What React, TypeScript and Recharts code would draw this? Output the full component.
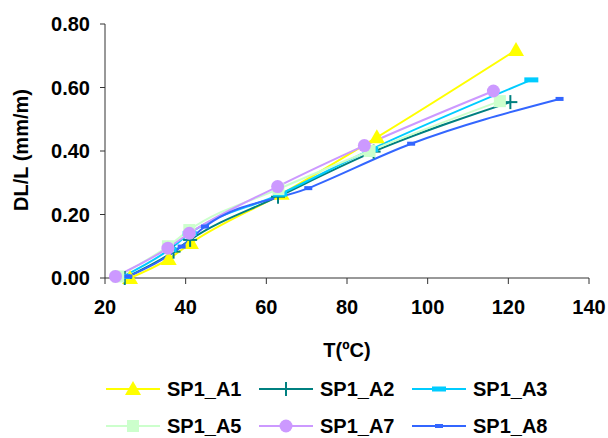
import React from 'react'
import { LineChart, Line, XAxis, YAxis } from 'recharts'

// temperatures (ºC) and DL/L (mm/m) per specimen
const tA1 = [26.2, 35.8, 41.3, 63.8, 87.4, 121.9]
const vA1 = [0.0, 0.06, 0.11, 0.265, 0.443, 0.718]
const tA2 = [24.9, 37.0, 41.1, 62.9, 86.6, 120.5]
const vA2 = [0.0, 0.083, 0.12, 0.256, 0.398, 0.554]
const tA3 = [24.5, 36.0, 41.0, 63.4, 86.0, 125.7]
const vA3 = [0.005, 0.09, 0.14, 0.264, 0.405, 0.624]
const tA5 = [23.3, 35.6, 40.9, 63.0, 85.6, 117.9]
const vA5 = [0.005, 0.1, 0.151, 0.28, 0.4, 0.557]
const tA7 = [22.6, 35.6, 40.9, 62.8, 84.3, 116.3]
const vA7 = [0.005, 0.094, 0.141, 0.288, 0.417, 0.589]
const tA8 = [25.8, 39.0, 44.8, 70.4, 95.9, 132.7]
const vA8 = [0.005, 0.099, 0.162, 0.283, 0.423, 0.564]

const xTicks = [20, 40, 60, 80, 100, 120, 140]
const yTicks = [0, 0.2, 0.4, 0.6, 0.8]

const FONT = '"Liberation Sans", Arial, sans-serif'

const toRows = (t: number[], v: number[]) => t.map((x, i) => ({ t: x, v: v[i] }))

type Shape = 'triangle' | 'plus' | 'dash' | 'square' | 'circle' | 'smalldash'

const marker = (shape: Shape, color: string, cx: number, cy: number, key?: string) => {
  switch (shape) {
    case 'triangle':
      return <path key={key} d={`M${cx},${cy - 8} L${cx + 8},${cy + 6} L${cx - 8},${cy + 6} Z`} fill={color} />
    case 'plus':
      return (
        <g key={key} stroke={color} strokeWidth={2}>
          <line x1={cx - 7} y1={cy} x2={cx + 7} y2={cy} />
          <line x1={cx} y1={cy - 7} x2={cx} y2={cy + 7} />
        </g>
      )
    case 'dash':
      return <rect key={key} x={cx - 7} y={cy - 2.5} width={14} height={5} fill={color} />
    case 'square':
      return <rect key={key} x={cx - 6} y={cy - 6} width={12} height={12} fill={color} />
    case 'circle':
      return <circle key={key} cx={cx} cy={cy} r={6.5} fill={color} />
    default:
      return <rect key={key} x={cx - 4} y={cy - 2} width={8} height={4} fill={color} />
  }
}

const series = [
  { name: 'SP1_A1', color: '#FFFF00', shape: 'triangle' as Shape, data: toRows(tA1, vA1) },
  { name: 'SP1_A2', color: '#008080', shape: 'plus' as Shape, data: toRows(tA2, vA2) },
  { name: 'SP1_A3', color: '#00CCFF', shape: 'dash' as Shape, data: toRows(tA3, vA3) },
  { name: 'SP1_A5', color: '#CCFFCC', shape: 'square' as Shape, data: toRows(tA5, vA5) },
  { name: 'SP1_A7', color: '#CC99FF', shape: 'circle' as Shape, data: toRows(tA7, vA7) },
  { name: 'SP1_A8', color: '#3366FF', shape: 'smalldash' as Shape, data: toRows(tA8, vA8) },
]

const tickStyle = { fontFamily: FONT, fontWeight: 'bold', fontSize: 20, fill: '#000' }

export default function App() {
  return (
    <div style={{ position: 'absolute', left: 0, top: 0, width: 608, height: 438, background: '#fff' }}>
      <LineChart width={608} height={438} margin={{ top: 24, right: 19, left: 10, bottom: 100 }}>
        <XAxis
          type="number"
          dataKey="t"
          domain={[20, 140]}
          ticks={xTicks}
          allowDuplicatedCategory={false}
          stroke="#333"
          tickSize={6}
          tickMargin={16}
          height={60}
          tick={tickStyle}
        />
        <YAxis
          type="number"
          domain={[0, 0.8]}
          ticks={yTicks}
          tickFormatter={(v: number) => v.toFixed(2)}
          stroke="#333"
          tickSize={5}
          tickMargin={10}
          width={95}
          tick={tickStyle}
        />
        {series.map((s) => (
          <Line
            key={s.name}
            data={s.data}
            dataKey="v"
            name={s.name}
            type="monotone"
            stroke={s.color}
            strokeWidth={2}
            isAnimationActive={false}
            dot={(p: any) => marker(s.shape, s.color, p.cx, p.cy, `${s.name}-${p.index}`)}
            activeDot={false}
          />
        ))}
        <text x={347} y={357} textAnchor="middle" fontFamily={FONT} fontWeight="bold" fontSize={20}>
          T(ºC)
        </text>
        <text
          x={28}
          y={150}
          textAnchor="middle"
          transform="rotate(-90 28 150)"
          fontFamily={FONT}
          fontWeight="bold"
          fontSize={20}
        >
          DL/L (mm/m)
        </text>
      </LineChart>
      <div style={{ position: 'absolute', left: 0, top: 0 }}>
        {series.map((s, i) => {
          const col = i % 3
          const row = Math.floor(i / 3)
          const left = 106 + col * 153
          const top = 389 + row * 37
          return (
            <div key={s.name} style={{ position: 'absolute', left, top: top - 14, height: 28, display: 'flex', alignItems: 'center', whiteSpace: 'nowrap' }}>
              <svg width={54} height={28}>
                <line x1={0} y1={14} x2={54} y2={14} stroke={s.color} strokeWidth={2} />
                {marker(s.shape, s.color, 27, 14)}
              </svg>
              <span style={{ marginLeft: 7, fontFamily: FONT, fontWeight: 'bold', fontSize: 20, color: '#000' }}>{s.name}</span>
            </div>
          )
        })}
      </div>
    </div>
  )
}
